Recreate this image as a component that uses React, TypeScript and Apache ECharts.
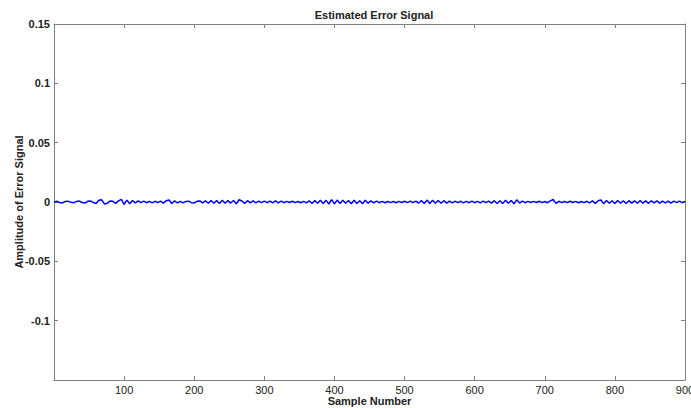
import React, { useEffect, useRef } from "react";
import * as echarts from "echarts";

const title = "Estimated Error Signal";
const xName = "Sample Number";
const yName = "Amplitude of Error Signal";
const sampleStep = 4;
const errorValues: number[] = [
  0, 0.0006, -0.0005, -0.0008, 0.0004, 0.0007, -0.0003, -0.0007, 0.0005, 0.0008, -0.0004, -0.0009, 0.0006, 0.0009, -0.0005,
  -0.0012, 0.0014, 0.0018, -0.0016, -0.001, 0.0008, 0.0006, -0.0011, 0.0009, 0.0022, -0.0019, 0.0016, -0.0014, 0.0012, -0.0008,
  0.0009, -0.0006, 0.0007, -0.0006, 0.0005, -0.0007, 0.0006, -0.0005, 0.0008, -0.0009, 0.0011, 0.0017, -0.0012, 0.001, -0.0007,
  0.0006, -0.0008, 0.0005, 0.0007, -0.0006, -0.0008, 0.0006, 0.0009, -0.0007, 0.001, -0.0011, 0.0012, -0.001, 0.0013, -0.0012,
  0.0014, -0.0011, 0.0012, -0.0009, 0.0013, -0.0015, 0.0019, 0.0008, -0.0013, 0.0011, -0.0008, 0.0009, -0.0007, 0.0008, -0.0006,
  0.0007, -0.0006, 0.0008, -0.0007, 0.0009, -0.0008, 0.0007, -0.0006, 0.0005, -0.0004, 0.0006, -0.0005, 0.0004, -0.0006, 0.0005,
  -0.0007, 0.001, -0.0012, 0.0013, -0.0011, 0.0015, -0.0013, 0.0014, -0.0017, 0.002, -0.0015, 0.0016, -0.0012, 0.0014, -0.001,
  0.0012, -0.0014, 0.0016, -0.0013, 0.0011, -0.0015, 0.0014, -0.001, 0.0009, -0.0008, 0.0007, -0.0006, 0.0005, -0.0006, 0.0004,
  -0.0005, 0.0004, -0.0006, 0.0005, -0.0004, 0.0006, -0.0005, 0.0007, -0.0006, 0.0008, -0.001, 0.0012, -0.0013, 0.0016, -0.0012,
  0.0014, -0.0011, 0.0012, -0.001, 0.0011, -0.0009, 0.0008, -0.0007, 0.0006, -0.0005, 0.0006, -0.0007, 0.0005, -0.0006, 0.0007,
  -0.0006, 0.0005, -0.0007, 0.0008, -0.0006, 0.0007, -0.0009, 0.0011, -0.0012, 0.001, -0.0013, 0.0014, -0.0011, 0.0012, -0.0015,
  0.0018, -0.0009, 0.0007, -0.0006, 0.0005, -0.0004, 0.0005, -0.0004, 0.0006, -0.0005, 0.0004, -0.0006, 0.0009, 0.0021, -0.0012,
  0.0006, -0.0005, 0.0004, -0.0005, 0.0006, -0.0004, 0.0005, -0.0006, 0.0004, -0.0005, 0.0006, -0.0007, 0.0009, -0.0012, 0.0011,
  0.0017, -0.0014, 0.0012, -0.001, 0.0011, -0.0012, 0.0013, -0.0011, 0.001, -0.0012, 0.0011, -0.0009, 0.001, -0.0011, 0.0012,
  -0.001, 0.0009, -0.0011, 0.001, -0.0008, 0.0009, -0.001, 0.0008, -0.0007, 0.0008, -0.0009, 0.0007, -0.0006, 0.0007, -0.0005,
  0.0004,
];
const xTicks = [0, 100, 200, 300, 400, 500, 600, 700, 800, 900];
const yTicks = [-0.15, -0.1, -0.05, 0, 0.05, 0.1, 0.15];

const axisColor = "#7f7f7f";
const font = "Liberation Sans, Arial, sans-serif";

export default function App() {
  const ref = useRef<HTMLDivElement>(null);
  useEffect(() => {
    if (!ref.current) return;
    const chart = echarts.init(ref.current, undefined, { renderer: "svg" });
    const data = errorValues.map((v, i) => [i * sampleStep, v]);
    const xMin = xTicks[0];
    const xMax = xTicks[xTicks.length - 1];
    const yMin = yTicks[0];
    const yMax = yTicks[yTicks.length - 1];
    const common = {
      axisLine: { show: true, onZero: false, lineStyle: { color: axisColor, width: 1 } },
      axisTick: { show: true, inside: true, length: 4, lineStyle: { color: axisColor } },
      splitLine: { show: false },
    };
    chart.setOption({
      animation: false,
      backgroundColor: "#ffffff",
      title: {
        text: title,
        left: 369,
        textAlign: "center",
        top: 4,
        textStyle: { fontFamily: font, fontSize: 11, fontWeight: "bold", color: "#222" },
      },
      grid: { left: 54, right: 6, top: 24, bottom: 28, containLabel: false, outerBoundsMode: "none" },
      xAxis: [
        {
          ...common,
          type: "value",
          min: xMin,
          max: xMax,
          interval: 100,
          position: "bottom",
          name: xName,
          nameLocation: "middle",
          nameGap: 15,
          nameMoveOverlap: false,
          nameTextStyle: { fontFamily: font, fontSize: 11, fontWeight: "bold", color: "#222", lineHeight: 12 },
          axisLabel: {
            fontFamily: font,
            fontSize: 11,
            color: "#222",
            margin: 4,
            formatter: (v: number) => (v === xMin ? "" : String(v)),
          },
        },
        {
          ...common,
          type: "value",
          min: xMin,
          max: xMax,
          interval: 100,
          position: "top",
          axisLabel: { show: false },
        },
      ],
      yAxis: [
        {
          ...common,
          type: "value",
          min: yMin,
          max: yMax,
          interval: 0.05,
          position: "left",
          name: yName,
          nameLocation: "middle",
          nameGap: 30,
          nameMoveOverlap: false,
          nameTextStyle: { fontFamily: font, fontSize: 11, fontWeight: "bold", color: "#222" },
          axisLabel: {
            fontFamily: font,
            fontSize: 11,
            fontWeight: "bold",
            color: "#222",
            margin: 4,
            formatter: (v: number) => {
              if (Math.abs(v - yMin) < 1e-9) return "";
              const r = Math.round(v * 100) / 100;
              return String(r);
            },
          },
        },
        {
          ...common,
          type: "value",
          min: yMin,
          max: yMax,
          interval: 0.05,
          position: "right",
          axisLabel: { show: false },
        },
      ],
      series: [
        {
          type: "line",
          data,
          xAxisIndex: 0,
          yAxisIndex: 0,
          showSymbol: false,
          symbol: "none",
          lineStyle: { color: "#0000ff", width: 1.5 },
        },
      ],
    });
    return () => chart.dispose();
  }, []);
  return (
    <div
      ref={ref}
      style={{ position: "fixed", left: 0, top: 0, width: 691, height: 408, background: "#fff" }}
    />
  );
}
